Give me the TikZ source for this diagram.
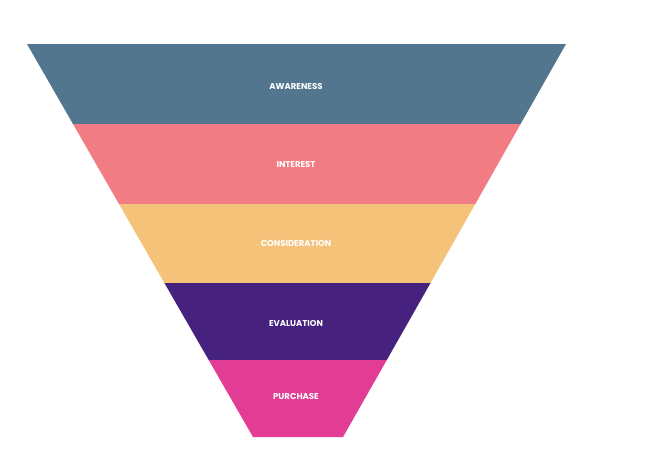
\documentclass[tikz,border=0pt]{standalone}
\usepackage{fontspec}
\setmainfont{Poppins}
\definecolor{cA}{HTML}{53768F}
\definecolor{cI}{HTML}{F27C83}
\definecolor{cC}{HTML}{F5C27A}
\definecolor{cE}{HTML}{47217E}
\definecolor{cP}{HTML}{E23C95}
\begin{document}
\begin{tikzpicture}[x=1pt,y=-1pt,
  lbl/.style={text=white,font=\bfseries\fontsize{8.5}{10}\selectfont}]
\useasboundingbox (0,0) rectangle (648,456);
\fill[white] (0,0) rectangle (648,456);
% left edge x = 27 + (y-44)*0.575 ; right edge x = 566 - (y-44)*0.567
\fill[cA] (27,44) -- (566,44) -- (520.6,124) -- (73,124) -- cycle;
\fill[cI] (73,124) -- (520.6,124) -- (475.3,204) -- (119,204) -- cycle;
\fill[cC] (119,204) -- (475.3,204) -- (430.5,283) -- (164.4,283) -- cycle;
\fill[cE] (164.4,283) -- (430.5,283) -- (386.8,360) -- (208.7,360) -- cycle;
\fill[cP] (208.7,360) -- (386.8,360) -- (343,437) -- (253,437) -- cycle;
\node[lbl] (a) at (296,86) {AWARENESS};
\node[lbl] (i) at (296,164) {INTEREST};
\node[lbl] (c) at (296,243) {CONSIDERATION};
\node[lbl] (e) at (296,323) {EVALUATION};
\node[lbl] (p) at (296,396) {PURCHASE};
\end{tikzpicture}
\end{document}
